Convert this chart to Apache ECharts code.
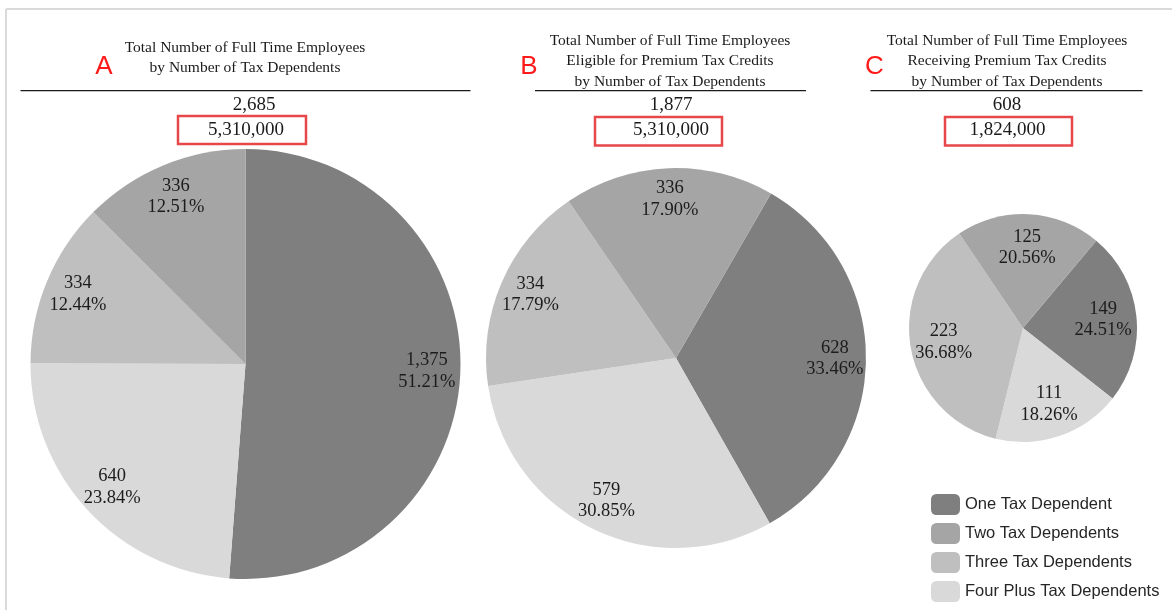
<!DOCTYPE html>
<html>
<head>
<meta charset="utf-8">
<title>Full Time Employees by Number of Tax Dependents</title>
<script src="https://cdn.jsdelivr.net/npm/echarts@6/dist/echarts.min.js"></script>
<style>
  html, body { margin: 0; padding: 0; background: #ffffff; }
  #chart { width: 1172px; height: 610px; }
</style>
</head>
<body>
<div id="chart"></div>
<script>
// Legend categories (legend order) and their fills
const categories = ['One Tax Dependent', 'Two Tax Dependents', 'Three Tax Dependents', 'Four Plus Tax Dependents'];
const categoryColors = ['#7f7f7f', '#a5a5a5', '#bfbfbf', '#d9d9d9'];

// Order of the slices going clockwise round each pie
const sliceOrder = ['One Tax Dependent', 'Four Plus Tax Dependents', 'Three Tax Dependents', 'Two Tax Dependents'];

// Employee counts, in slice order
const employeesAll = [1375, 640, 334, 336];
const employeesEligible = [628, 579, 334, 336];
const employeesReceiving = [149, 111, 223, 125];

// Population estimates shown in the red boxes
const populationTotals = ['5,310,000', '5,310,000', '1,824,000'];

const panelLetters = ['A', 'B', 'C'];
const panelTitles = [
  'Total Number of Full Time Employees\nby Number of Tax Dependents',
  'Total Number of Full Time Employees\nEligible for Premium Tax Credits\nby Number of Tax Dependents',
  'Total Number of Full Time Employees\nReceiving Premium Tax Credits\nby Number of Tax Dependents'
];

// Panel geometry
const panels = [
  { values: employeesAll,       center: [245.5, 364], r: 215, start: 90, ring: 0.66,
    titleX: 245, titleY: 58, rule: [20.5, 470.5], letter: [104, 66.5],
    countX: 254, popX: 246, box: [178, 116, 128, 28] },
  { values: employeesEligible,  center: [676, 358],   r: 190, start: 60, ring: 0.64,
    titleX: 670, titleY: 61, rule: [535, 806],    letter: [529, 66.5],
    countX: 671, popX: 671, box: [595, 117, 127, 28.5] },
  { values: employeesReceiving, center: [1023, 328],  r: 114, start: 50, ring: 0.36,
    titleX: 1007, titleY: 61, rule: [870.5, 1142.5], letter: [874.5, 66.5],
    countX: 1007, popX: 1007.5, box: [945, 117, 127, 28.5] }
];

const serif = '"Liberation Serif", "Times New Roman", serif';
const sans = '"Liberation Sans", Arial, sans-serif';
const fmtInt = v => v.toLocaleString('en-US');
const sum = arr => arr.reduce((a, b) => a + b, 0);

function sliceData(values, transparent) {
  return values.map((v, i) => ({
    name: sliceOrder[i],
    value: v,
    itemStyle: { color: transparent ? 'rgba(0,0,0,0)' : categoryColors[categories.indexOf(sliceOrder[i])] }
  }));
}

const series = [];
// Filled pies
panels.forEach(p => {
  series.push({
    type: 'pie',
    center: p.center,
    radius: [0, p.r],
    startAngle: p.start,
    clockwise: true,
    avoidLabelOverlap: false,
    label: { show: false },
    labelLine: { show: false },
    emphasis: { disabled: true },
    itemStyle: { borderWidth: 0 },
    data: sliceData(p.values, false)
  });
});
// Transparent rings carrying the value / percentage labels
panels.forEach(p => {
  const total = sum(p.values);
  series.push({
    type: 'pie',
    silent: true,
    center: p.center,
    radius: [p.r * p.ring, p.r],
    startAngle: p.start,
    clockwise: true,
    avoidLabelOverlap: false,
    emphasis: { disabled: true },
    labelLine: { show: false },
    label: {
      show: true,
      position: 'inside',
      fontFamily: serif,
      fontSize: 18.5,
      lineHeight: 21.5,
      color: '#1c1c1c',
      formatter: d => fmtInt(d.value) + '\n' + (d.value / total * 100).toFixed(2) + '%'
    },
    data: sliceData(p.values, true)
  });
});

const graphic = [
  // frame edges
  { type: 'line', z: 1, shape: { x1: 6, y1: 9, x2: 1172, y2: 9 }, style: { stroke: '#dadada', lineWidth: 2 } },
  { type: 'line', z: 1, shape: { x1: 6, y1: 9, x2: 6, y2: 610 }, style: { stroke: '#dadada', lineWidth: 2 } }
];

panels.forEach((p, i) => {
  graphic.push(
    { type: 'text', x: p.titleX, y: p.titleY,
      style: { text: panelTitles[i], align: 'center', verticalAlign: 'middle',
               fontFamily: serif, fontSize: 15.5, lineHeight: 20.5, fill: '#1a1a1a' } },
    { type: 'line', shape: { x1: p.rule[0], y1: 90.7, x2: p.rule[1], y2: 90.7 },
      style: { stroke: '#1a1a1a', lineWidth: 1.3 } },
    { type: 'text', x: p.letter[0], y: p.letter[1],
      style: { text: panelLetters[i], align: 'center', verticalAlign: 'middle',
               fontFamily: sans, fontSize: 26, fill: '#ff1a1a' } },
    { type: 'text', x: p.countX, y: 105.5,
      style: { text: fmtInt(sum(p.values)), align: 'center', verticalAlign: 'middle',
               fontFamily: serif, fontSize: 19, fill: '#1a1a1a' } },
    { type: 'rect', shape: { x: p.box[0], y: p.box[1], width: p.box[2], height: p.box[3] },
      style: { fill: 'none', stroke: '#e8474a', lineWidth: 2.5 } },
    { type: 'text', x: p.popX, y: 130.5,
      style: { text: populationTotals[i], align: 'center', verticalAlign: 'middle',
               fontFamily: serif, fontSize: 19, fill: '#1a1a1a' } }
  );
});

const chart = echarts.init(document.getElementById('chart'), null, { renderer: 'canvas' });
chart.setOption({
  animation: false,
  backgroundColor: '#ffffff',
  legend: {
    orient: 'vertical',
    left: 926,
    top: 489,
    itemWidth: 29,
    itemHeight: 21,
    itemGap: 8,
    icon: 'roundRect',
    selectedMode: false,
    data: categories,
    textStyle: { fontFamily: sans, fontSize: 16.5, color: '#262626' }
  },
  graphic: graphic,
  series: series
});
</script>
</body>
</html>
